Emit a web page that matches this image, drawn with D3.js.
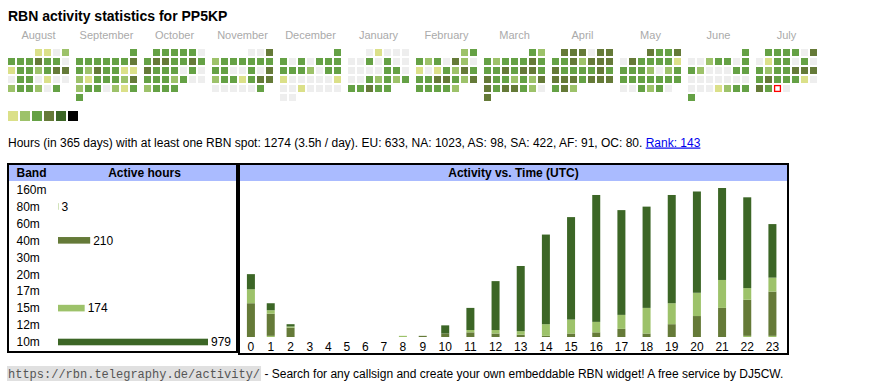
<!DOCTYPE html>
<html>
<head>
<meta charset="utf-8">
<script src="https://cdn.jsdelivr.net/npm/d3@7"></script>
<style>
  body { margin: 0; background: #fff; }
  svg { display: block; }
</style>
</head>
<body>
<div id="chart"></div>
<script>
// calendar: one string per month, one digit per day (0 = no spot, 1..5 = activity level)
const MONTHS = ["August", "September", "October", "November", "December", "January",
                "February", "March", "April", "May", "June", "July"];
const DAY_LEVELS = [
  "1102333433013323440330100233203",
  "333333343243311213332423302133",
  "3333303443343433303033323002333",
  "004233333333003042331344000003",
  "3303033333320331000001001000000",
  "0100000303000000330003232333433",
  "2332304201013243334432433332",
  "3232333433343443433232443443204",
  "444044334244443333434443444342",
  "4334043333133320233333333003230",
  "300233033200033000000000012333",
  "3333040133030323344434333104300"
];
const FIRST_DAY = [2024, 7, 1];   // August 1st 2024
const TODAY = [2025, 6, 30];

const BANDS = ["160m", "80m", "60m", "40m", "30m", "20m", "17m", "15m", "12m", "10m"];
const BAND_HOURS = [0, 3, 0, 210, 0, 0, 0, 174, 0, 979];

const HOURS = d3.range(24);
const HOURLY_80M = [0,1,0,0,0,0,0,0,0,0,0,0,0,0,0,0,0,0,0,0,0,0,1,1];
const HOURLY_40M = [29,19,8,0,0,0,0,0,0,1,3,4,3,2,1,3,4,7,3,11,18,25,31,38];
const HOURLY_15M = [12,3,1,0,0,0,0,0,1,0,0,2,3,3,10,12,9,12,22,18,20,24,10,12];
const HOURLY_10M = [13,6,2,0,0,0,0,0,0,0,7,19,42,56,77,88,109,90,87,93,87,79,78,46];

const TITLE = "RBN activity statistics for PP5KP";
const INFO = "Hours (in 365 days) with at least one RBN spot: 1274 (3.5h / day). EU: 633, NA: 1023, AS: 98, SA: 422, AF: 91, OC: 80. ";
const RANK = "Rank: 143";
const FOOT_URL = "https://rbn.telegraphy.de/activity/";
const FOOT_TEXT = " - Search for any callsign and create your own embeddable RBN widget! A free service by DJ5CW.";

// colours
const LEVEL_COLORS = ["#eeeeee", "#dbe089", "#9dc26a", "#65a145", "#657a38", "#3c6626", "#000000"];
const BAND_COLORS = {"80m": "#9dc26a", "40m": "#657a38", "15m": "#9dc26a", "10m": "#3c6626"};
const HEAD_BG = "#aabbff";

const WIDTH = 870, HEIGHT = 390;
const FONT = "Arial, 'Liberation Sans', sans-serif";

var svg = d3.select("#chart").append("svg")
            .attr("width", WIDTH)
            .attr("height", HEIGHT)
            .style("font-family", FONT);

svg.append("text")
   .attr("x", 8).attr("y", 21)
   .attr("font-size", 14).attr("font-weight", "bold")
   .text(TITLE);

// ---- calendar ----
var dayX = d3.scaleBand().domain(d3.range(7)).range([0, 61]).paddingInner(2 / 9);
var weekY = d3.scaleBand().domain(d3.range(6)).range([49, 49 + 52]).paddingInner(2 / 9);
var monthX = d3.scaleLinear().domain([0, 1]).range([8, 76]);

var start = new Date(Date.UTC(FIRST_DAY[0], FIRST_DAY[1], FIRST_DAY[2]));
var today = new Date(Date.UTC(TODAY[0], TODAY[1], TODAY[2]));

MONTHS.forEach(function (name, i) {
    var m0 = d3.utcMonth.offset(start, i);
    var firstCol = (m0.getUTCDay() + 6) % 7;
    var days = DAY_LEVELS[i].split("").map(Number).map(function (lvl, k) {
        return {level: lvl, idx: k + firstCol, date: d3.utcDay.offset(m0, k)};
    });

    var g = svg.append("g").attr("transform", "translate(" + monthX(i) + ",0)");

    g.append("text")
     .attr("x", 61 / 2).attr("y", 39)
     .attr("text-anchor", "middle")
     .attr("font-size", 11).attr("fill", "#aaaaaa")
     .text(name);

    g.selectAll("rect.day")
     .data(days)
     .enter().append("rect")
     .attr("class", "day")
     .attr("x", function (d) { return dayX(d.idx % 7); })
     .attr("y", function (d) { return weekY(Math.floor(d.idx / 7)); })
     .attr("width", dayX.bandwidth())
     .attr("height", weekY.bandwidth())
     .attr("fill", function (d) { return +d.date === +today ? "#ffffff" : LEVEL_COLORS[d.level]; });

    g.selectAll("rect.today")
     .data(days.filter(function (d) { return +d.date === +today; }))
     .enter().append("rect")
     .attr("x", function (d) { return dayX(d.idx % 7) + 0.6; })
     .attr("y", function (d) { return weekY(Math.floor(d.idx / 7)) + 0.6; })
     .attr("width", dayX.bandwidth() - 1.2)
     .attr("height", weekY.bandwidth() - 1.2)
     .attr("fill", "none").attr("stroke", "#ff0000").attr("stroke-width", 1.3);
});

// legend squares
var legX = d3.scaleBand().domain(d3.range(1, 7)).range([8, 8 + 70]).paddingInner(2 / 12);
svg.selectAll("rect.leg")
   .data(d3.range(1, 7))
   .enter().append("rect")
   .attr("x", function (d) { return legX(d); })
   .attr("y", 111)
   .attr("width", legX.bandwidth()).attr("height", 10)
   .attr("fill", function (d) { return LEVEL_COLORS[d]; });

// info line
var info = svg.append("text").attr("x", 8).attr("y", 146.5).attr("font-size", 12).attr("fill", "#000");
info.append("tspan").text(INFO);
info.append("tspan").attr("fill", "#0000ee").attr("text-decoration", "underline").text(RANK);

// ---- band table ----
svg.append("rect").attr("x", 9).attr("y", 165).attr("width", 227).attr("height", 16).attr("fill", HEAD_BG);
svg.append("rect").attr("x", 8).attr("y", 164).attr("width", 229).attr("height", 188)
   .attr("fill", "none").attr("stroke", "#000").attr("stroke-width", 2);

svg.append("text").attr("x", 16.5).attr("y", 177).attr("font-size", 12).attr("font-weight", "bold").text("Band");
svg.append("text").attr("x", 144.5).attr("y", 177).attr("font-size", 12).attr("font-weight", "bold")
   .attr("text-anchor", "middle").text("Active hours");

var bandY = d3.scalePoint().domain(BANDS).range([189.5, 342]);
var bandX = d3.scaleLinear().domain([0, d3.max(BAND_HOURS)]).range([58, 208]);

var rows = svg.selectAll("g.band")
   .data(BANDS.map(function (b, i) { return {band: b, hours: BAND_HOURS[i]}; }))
   .enter().append("g").attr("class", "band")
   .attr("transform", function (d) { return "translate(0," + bandY(d.band) + ")"; });

rows.append("text").attr("x", 16.5).attr("dy", "0.36em").attr("font-size", 12).text(function (d) { return d.band; });
rows.filter(function (d) { return d.hours > 0; })
    .append("rect")
    .attr("x", bandX(0)).attr("y", -3.3)
    .attr("width", function (d) { return bandX(d.hours) - bandX(0); })
    .attr("height", 6.6)
    .attr("fill", function (d) { return BAND_COLORS[d.band]; });
rows.filter(function (d) { return d.hours > 0; })
    .append("text")
    .attr("x", function (d) { return bandX(d.hours) + 3; })
    .attr("dy", "0.36em").attr("font-size", 12)
    .text(function (d) { return d.hours; });

// ---- activity vs time ----
svg.append("rect").attr("x", 240).attr("y", 165).attr("width", 547).attr("height", 16).attr("fill", HEAD_BG);
svg.append("rect").attr("x", 239).attr("y", 164).attr("width", 549).attr("height", 190)
   .attr("fill", "none").attr("stroke", "#000").attr("stroke-width", 2);
svg.append("text").attr("x", 513.5).attr("y", 177).attr("font-size", 12).attr("font-weight", "bold")
   .attr("text-anchor", "middle").text("Activity vs. Time (UTC)");

var table = HOURS.map(function (h, i) {
    return {hour: h, "80m": HOURLY_80M[i], "40m": HOURLY_40M[i], "15m": HOURLY_15M[i], "10m": HOURLY_10M[i]};
});
var keys = ["80m", "40m", "15m", "10m"];
var series = d3.stack().keys(keys)(table);
var totals = table.map(function (d) { return d3.sum(keys, function (k) { return d[k]; }); });

// table-like columns: width = content + equal padding
var BAR_W = 8, DIGIT_W = 6.67;
var content = HOURS.map(function (h, i) {
    return Math.max(String(h).length * DIGIT_W, totals[i] > 0 ? BAR_W : 0);
});
var pad = (544 - d3.sum(content)) / HOURS.length;
var cum = d3.cumsum(content.map(function (c) { return c + pad; }));
var colPos = d3.scaleLinear().domain([0, d3.sum(content) + pad * HOURS.length]).range([241, 785]);
var hourX = d3.scaleOrdinal().domain(HOURS)
    .range(HOURS.map(function (h, i) { return colPos(cum[i] - (content[i] + pad) / 2); }));

var y = d3.scaleLinear().domain([0, d3.max(totals)]).range([337, 188]);

svg.append("g").selectAll("g")
   .data(series)
   .enter().append("g")
   .attr("fill", function (s) { return BAND_COLORS[s.key]; })
   .selectAll("rect")
   .data(function (s) { return s; })
   .enter().append("rect")
   .attr("x", function (d) { return hourX(d.data.hour) - BAR_W / 2; })
   .attr("y", function (d) { return y(d[1]); })
   .attr("width", BAR_W)
   .attr("height", function (d) { return y(d[0]) - y(d[1]); });

svg.append("g").selectAll("text")
   .data(HOURS)
   .enter().append("text")
   .attr("x", function (h) { return hourX(h); })
   .attr("y", 350.5)
   .attr("text-anchor", "middle").attr("font-size", 12)
   .text(function (h) { return h; });

// ---- footer ----
var foot = svg.append("g");
var url = foot.append("text").attr("x", 8).attr("y", 378)
   .attr("font-family", "'Liberation Mono', 'Courier New', monospace").attr("font-size", 12)
   .attr("fill", "#555").text(FOOT_URL);
var uw = url.node().getComputedTextLength();
foot.insert("rect", "text").attr("x", 7).attr("y", 366).attr("width", uw + 2).attr("height", 15).attr("fill", "#e0e0e0");
foot.append("text").attr("x", 8 + uw + 1).attr("y", 378).attr("font-size", 12)
   .attr("fill", "#000").style("white-space", "pre").text(FOOT_TEXT);
</script>
</body>
</html>
